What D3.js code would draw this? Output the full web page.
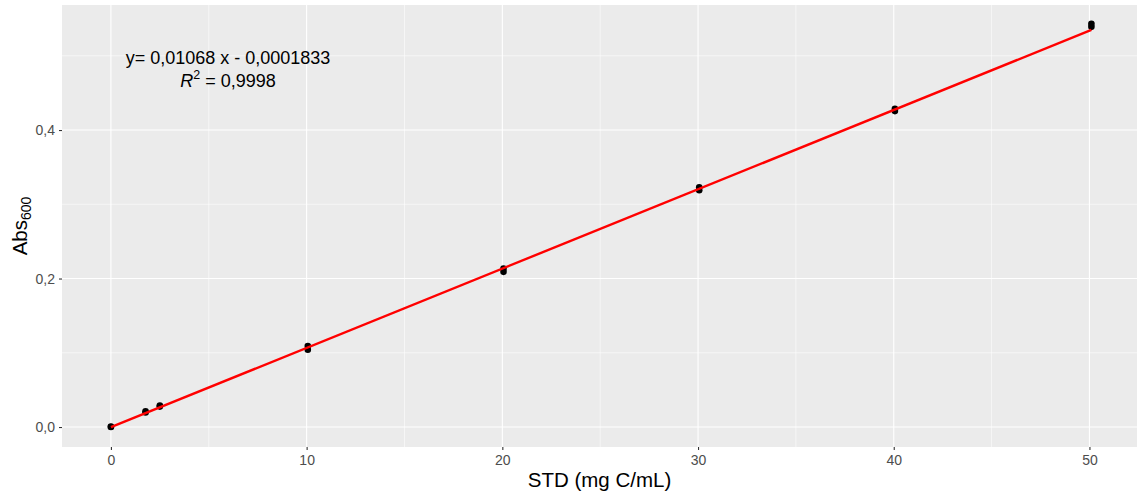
<!DOCTYPE html>
<html>
<head>
<meta charset="utf-8">
<script src="https://cdn.jsdelivr.net/npm/d3@7/dist/d3.min.js"></script>
<style>
  html, body { margin: 0; padding: 0; background: #ffffff; }
  svg { display: block; font-family: "Liberation Sans", Arial, sans-serif; }
</style>
</head>
<body>
<svg id="chart" width="1137" height="494"></svg>
<script>
// Standard concentrations (mg C/mL), replicate readings
const stdConc = [0, 0, 1.77, 1.77, 2.5, 2.5, 10.06, 10.06, 20.06, 20.06, 30.06, 30.06, 40.06, 40.06, 50.1, 50.1];
// Absorbance at 600 nm for each standard
const absorbance = [0, 0.0005, 0.0195, 0.0212, 0.0275, 0.029, 0.109, 0.104, 0.2135, 0.209, 0.323, 0.319, 0.4285, 0.4255, 0.5432, 0.539];
// Fitted calibration line
const slope = 0.01068;
const intercept = -0.0001833;
const rSquared = "0,9998";
const eqLabel = "y= 0,01068 x - 0,0001833";

const xMajor = [0, 10, 20, 30, 40, 50];
const xMinor = [5, 15, 25, 35, 45];
const yMajor = [0, 0.2, 0.4];
const yMinor = [0.1, 0.3, 0.5];

const svg = d3.select("#chart");
const panel = { left: 62, right: 1137, top: 5, bottom: 447 };

const x = d3.scaleLinear().domain([-2.5, 52.43]).range([panel.left, panel.right]);
const y = d3.scaleLinear().domain([-0.0269, 0.5684]).range([panel.bottom, panel.top]);

const fmt = d => d3.format(".1f")(d).replace(".", ",");

// panel background
svg.append("rect")
  .attr("x", panel.left).attr("y", panel.top)
  .attr("width", panel.right - panel.left).attr("height", panel.bottom - panel.top)
  .attr("fill", "#ebebeb");

const grid = svg.append("g");
grid.selectAll(".xmin").data(xMinor).join("line")
  .attr("x1", d => x(d)).attr("x2", d => x(d))
  .attr("y1", panel.top).attr("y2", panel.bottom)
  .attr("stroke", "#ffffff").attr("stroke-width", 0.55);
grid.selectAll(".ymin").data(yMinor).join("line")
  .attr("y1", d => y(d)).attr("y2", d => y(d))
  .attr("x1", panel.left).attr("x2", panel.right)
  .attr("stroke", "#ffffff").attr("stroke-width", 0.55);
grid.selectAll(".xmaj").data(xMajor).join("line")
  .attr("x1", d => x(d)).attr("x2", d => x(d))
  .attr("y1", panel.top).attr("y2", panel.bottom)
  .attr("stroke", "#ffffff").attr("stroke-width", 1.1);
grid.selectAll(".ymaj").data(yMajor).join("line")
  .attr("y1", d => y(d)).attr("y2", d => y(d))
  .attr("x1", panel.left).attr("x2", panel.right)
  .attr("stroke", "#ffffff").attr("stroke-width", 1.1);

// axes
const xAxis = d3.axisBottom(x).tickValues(xMajor).tickSize(3).tickPadding(5).tickFormat(d3.format("d"));
const yAxis = d3.axisLeft(y).tickValues(yMajor).tickSize(3).tickPadding(4).tickFormat(fmt);

const gx = svg.append("g").attr("transform", `translate(0,${panel.bottom})`).call(xAxis);
const gy = svg.append("g").attr("transform", `translate(${panel.left},0)`).call(yAxis);
[gx, gy].forEach(g => {
  g.select(".domain").remove();
  g.selectAll(".tick line").attr("stroke", "#333333").attr("stroke-width", 1.1);
  g.selectAll(".tick text").attr("fill", "#4d4d4d").style("font-size", "14px");
});

// data points
svg.append("g").selectAll("circle")
  .data(stdConc.map((c, i) => [c, absorbance[i]]))
  .join("circle")
  .attr("cx", d => x(d[0])).attr("cy", d => y(d[1]))
  .attr("r", 3.3).attr("fill", "#000000");

// regression line over the data range
const xr = d3.extent(stdConc);
svg.append("line")
  .attr("x1", x(xr[0])).attr("y1", y(slope * xr[0] + intercept))
  .attr("x2", x(xr[1])).attr("y2", y(slope * xr[1] + intercept))
  .attr("stroke", "#ff0000").attr("stroke-width", 2.4);

// equation annotation
svg.append("text")
  .attr("x", 228).attr("y", 64).attr("text-anchor", "middle")
  .style("font-size", "18px").attr("fill", "#000")
  .text(eqLabel);
const r2 = svg.append("text")
  .attr("x", 228).attr("y", 87).attr("text-anchor", "middle")
  .style("font-size", "18px").attr("fill", "#000");
r2.append("tspan").style("font-style", "italic").text("R");
r2.append("tspan").attr("dy", -8).style("font-size", "12.5px").text("2");
r2.append("tspan").attr("dy", 8).text(" = " + rSquared);

// axis titles
svg.append("text")
  .attr("x", (panel.left + panel.right) / 2).attr("y", 487)
  .attr("text-anchor", "middle").style("font-size", "20.5px").attr("fill", "#000")
  .text("STD (mg C/mL)");
const yt = svg.append("text")
  .attr("transform", `translate(27,${(panel.top + panel.bottom) / 2}) rotate(-90)`)
  .attr("text-anchor", "middle").style("font-size", "20.5px").attr("fill", "#000");
yt.append("tspan").text("Abs");
yt.append("tspan").attr("dy", 4).style("font-size", "14px").text("600");
</script>
</body>
</html>
